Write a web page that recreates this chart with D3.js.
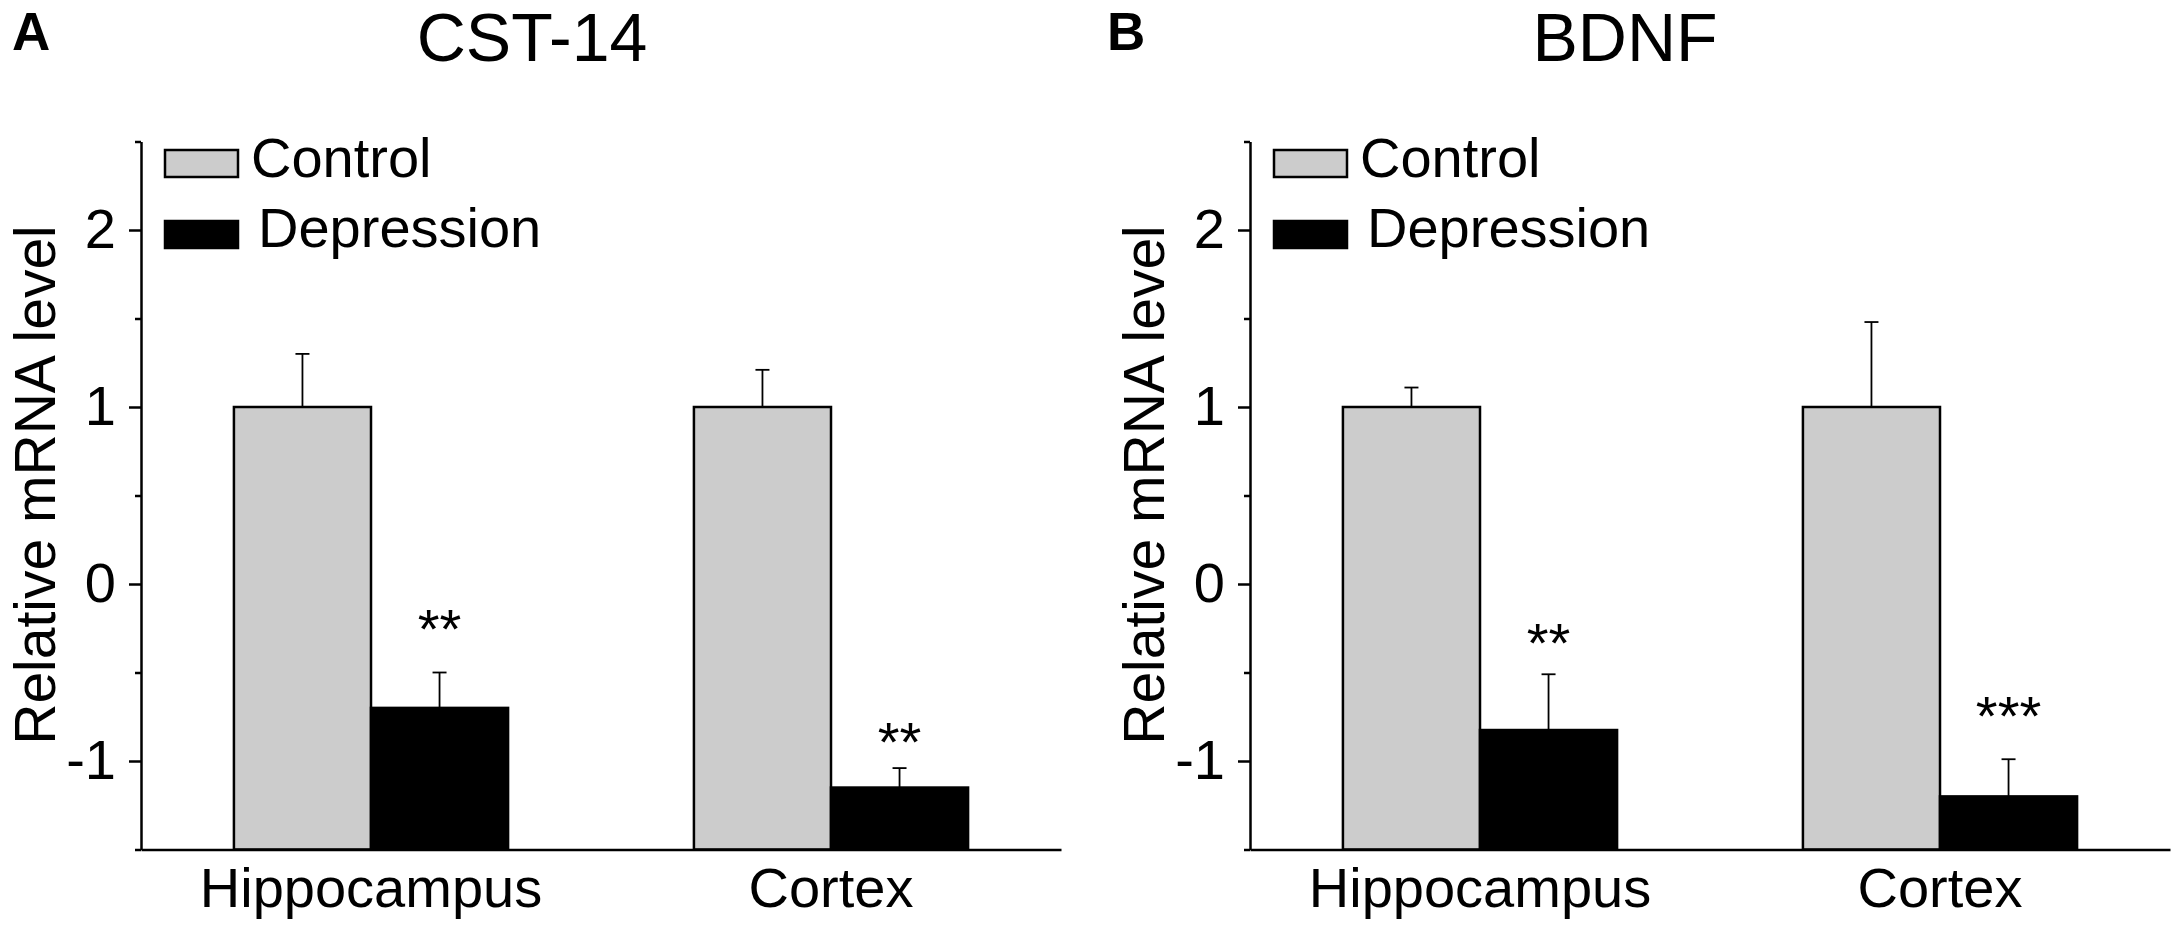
<!DOCTYPE html>
<html>
<head>
<meta charset="utf-8">
<script src="https://cdn.jsdelivr.net/npm/d3@7"></script>
<style>
  html, body { margin: 0; padding: 0; background: #fff; }
  svg { display: block; }
  text { font-family: Arial, "Liberation Sans", sans-serif; fill: #000; }
</style>
</head>
<body>
<svg id="chart" width="2182" height="927"></svg>
<script>
// ---- data ----
const categories = ["Hippocampus", "Cortex"];
const seriesNames = ["Control", "Depression"];
const yMajorTicks = [-1, 0, 1, 2];
const yMinorTicks = [-1.5, -0.5, 0.5, 1.5, 2.5];
const yDomain = [-1.5, 2.5];

const panelTitles = ["CST-14", "BDNF"];
const panelLetters = ["A", "B"];

const cst14Control = [1.0, 1.0];
const cst14ControlErr = [0.30, 0.21];
const cst14Depression = [-0.70, -1.15];
const cst14DepressionErr = [0.20, 0.11];
const cst14Stars = ["**", "**"];
const cst14StarY = [-0.36, -1.00];

const bdnfControl = [1.0, 1.0];
const bdnfControlErr = [0.11, 0.48];
const bdnfDepression = [-0.825, -1.20];
const bdnfDepressionErr = [0.315, 0.21];
const bdnfStars = ["**", "***"];
const bdnfStarY = [-0.44, -0.853];

const yTitle = "Relative mRNA level";
const colors = ["#cccccc", "#000000"];

// ---- layout ----
const svg = d3.select("#chart");
const plotTop = 141.5, plotBottom = 849.5;
const panels = [
  { x0: 141, x1: 1061, titleX: 532, letterX: 12, control: cst14Control, controlErr: cst14ControlErr,
    dep: cst14Depression, depErr: cst14DepressionErr, stars: cst14Stars, starY: cst14StarY },
  { x0: 1250, x1: 2170, titleX: 1625, letterX: 1107, control: bdnfControl, controlErr: bdnfControlErr,
    dep: bdnfDepression, depErr: bdnfDepressionErr, stars: bdnfStars, starY: bdnfStarY }
];

const y = d3.scaleLinear().domain(yDomain).range([plotBottom, plotTop]);

panels.forEach((p, pi) => {
  const g = svg.append("g");
  const x0 = d3.scaleBand().domain(categories).range([p.x0, p.x1])
    .paddingInner(0.404).paddingOuter(0.202);
  const x1 = d3.scaleBand().domain(seriesNames).range([0, x0.bandwidth()]).padding(0);

  const rows = categories.map((c, i) => ({
    cat: c,
    vals: [
      { s: seriesNames[0], v: p.control[i], e: p.controlErr[i] },
      { s: seriesNames[1], v: p.dep[i], e: p.depErr[i] }
    ],
    star: p.stars[i], starY: p.starY[i]
  }));

  const grp = g.selectAll("g.cat").data(rows).join("g")
    .attr("class", "cat")
    .attr("transform", d => `translate(${x0(d.cat)},0)`);

  // error bars (upper only)
  grp.selectAll("g.err").data(d => d.vals).join("g").attr("class", "err").each(function(d) {
    const cx = x1(d.s) + x1.bandwidth() / 2;
    const sel = d3.select(this);
    sel.append("line").attr("x1", cx).attr("x2", cx)
      .attr("y1", y(d.v)).attr("y2", y(d.v + d.e))
      .attr("stroke", "#000").attr("stroke-width", 1.8);
    sel.append("line").attr("x1", cx - 7).attr("x2", cx + 7)
      .attr("y1", y(d.v + d.e)).attr("y2", y(d.v + d.e))
      .attr("stroke", "#000").attr("stroke-width", 1.8);
  });

  grp.selectAll("rect").data(d => d.vals).join("rect")
    .attr("x", d => x1(d.s))
    .attr("width", x1.bandwidth())
    .attr("y", d => y(d.v))
    .attr("height", d => y(yDomain[0]) - y(d.v))
    .attr("fill", (d, i) => colors[i])
    .attr("stroke", "#000")
    .attr("stroke-width", 2.5);

  // stars
  grp.append("text")
    .attr("x", x1(seriesNames[1]) + x1.bandwidth() / 2)
    .attr("y", d => y(d.starY))
    .attr("text-anchor", "middle")
    .attr("font-size", 56)
    .text(d => d.star);

  // y axis
  const yAxis = g.append("g").attr("transform", `translate(${p.x0},0)`)
    .call(d3.axisLeft(y).tickValues(yMajorTicks).tickSize(12).tickSizeOuter(0)
      .tickPadding(13).tickFormat(d => d < 0 ? "-" + Math.abs(d) : d));
  yAxis.select(".domain").attr("stroke-width", 2.5);
  yAxis.selectAll(".tick line").attr("stroke-width", 2.5);
  yAxis.selectAll(".tick text").attr("font-size", 56)
    .attr("font-family", "Arial, 'Liberation Sans', sans-serif");

  const yMinor = g.append("g").attr("transform", `translate(${p.x0},0)`)
    .call(d3.axisLeft(y).tickValues(yMinorTicks).tickSize(6).tickSizeOuter(0).tickFormat(""));
  yMinor.select(".domain").remove();
  yMinor.selectAll(".tick line").attr("stroke-width", 2.5);

  // x axis
  const xAxis = g.append("g").attr("transform", `translate(0,${plotBottom})`)
    .call(d3.axisBottom(x0).tickSize(0).tickSizeOuter(0).tickPadding(18));
  xAxis.select(".domain").attr("stroke-width", 2.5);
  xAxis.selectAll(".tick text").attr("font-size", 56)
    .attr("font-family", "Arial, 'Liberation Sans', sans-serif");

  // y title
  g.append("text")
    .attr("transform", `translate(${p.x0 - 86},485) rotate(-90)`)
    .attr("text-anchor", "middle")
    .attr("font-size", 57)
    .text(yTitle);

  // title
  g.append("text").attr("x", p.titleX).attr("y", 61)
    .attr("text-anchor", "middle").attr("font-size", 68).text(panelTitles[pi]);

  // panel letter
  g.append("text").attr("x", p.letterX).attr("y", 50)
    .attr("font-size", 53).attr("font-weight", "bold").text(panelLetters[pi]);

  // legend
  const leg = g.append("g").attr("transform", `translate(${p.x0},0)`);
  const legRows = [
    { name: seriesNames[0], sy: 150, tx: 110, ty: 177 },
    { name: seriesNames[1], sy: 221, tx: 117, ty: 247 }
  ];
  legRows.forEach((r, i) => {
    leg.append("rect").attr("x", 24).attr("y", r.sy).attr("width", 73).attr("height", 27)
      .attr("fill", colors[i]).attr("stroke", "#000").attr("stroke-width", 2.5);
    leg.append("text").attr("x", r.tx).attr("y", r.ty).attr("font-size", 56).text(r.name);
  });
});
</script>
</body>
</html>
